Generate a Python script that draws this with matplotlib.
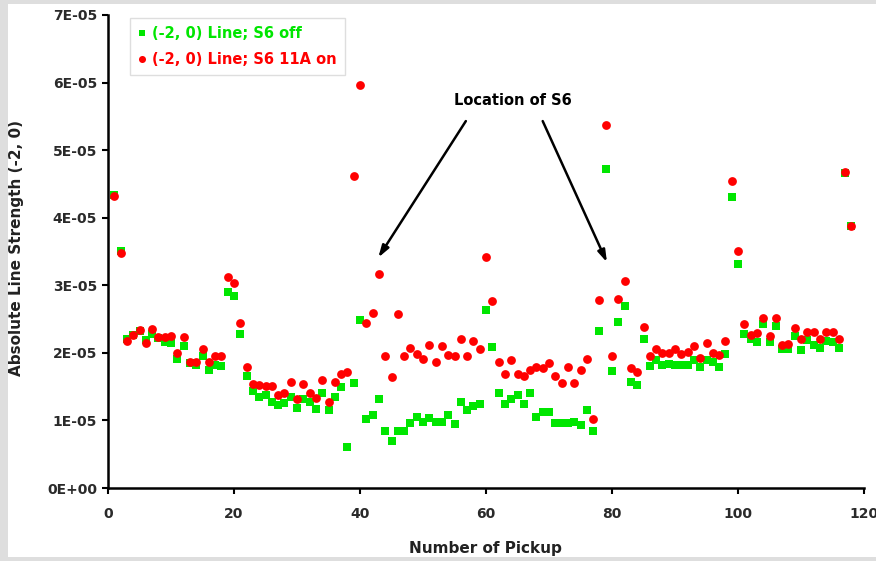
import numpy as np
import matplotlib
matplotlib.use("Agg")
import matplotlib.pyplot as plt
from matplotlib.patches import Rectangle
from matplotlib.ticker import FuncFormatter, MultipleLocator

# Pickup numbers and line strengths (in units of 1E-05)
pickup = list(range(1, 119))

s6_off = [
    4.34, 3.50, 2.21, 2.26, 2.32, 2.19, 2.28, 2.22, 2.16, 2.14,
    1.91, 2.10, 1.85, 1.82, 1.96, 1.74, 1.82, 1.81, 2.90, 2.84,
    2.28, 1.66, 1.43, 1.34, 1.38, 1.28, 1.23, 1.26, 1.35, 1.18,
    1.31, 1.28, 1.17, 1.41, 1.16, 1.35, 1.49, 0.60, 1.55, 2.48,
    1.02, 1.08, 1.31, 0.85, 0.70, 0.85, 0.85, 0.96, 1.05, 0.98,
    1.03, 0.98, 0.98, 1.08, 0.95, 1.28, 1.15, 1.21, 1.25, 2.64,
    2.08, 1.41, 1.24, 1.32, 1.38, 1.24, 1.41, 1.05, 1.12, 1.12,
    0.96, 0.96, 0.96, 0.97, 0.93, 1.15, 0.85, 2.32, 4.72, 1.73,
    2.46, 2.70, 1.57, 1.53, 2.21, 1.80, 1.90, 1.82, 1.83, 1.82,
    1.82, 1.82, 1.90, 1.79, 1.90, 1.86, 1.79, 1.98, 4.31, 3.31,
    2.28, 2.20, 2.16, 2.42, 2.16, 2.40, 2.06, 2.06, 2.25, 2.04,
    2.19, 2.12, 2.07, 2.17, 2.16, 2.07, 4.66, 3.87,
]

s6_on = [
    4.32, 3.48, 2.18, 2.27, 2.34, 2.14, 2.36, 2.24, 2.24, 2.25,
    2.00, 2.24, 1.87, 1.87, 2.06, 1.87, 1.96, 1.96, 3.12, 3.04,
    2.44, 1.79, 1.54, 1.52, 1.51, 1.51, 1.38, 1.40, 1.57, 1.31,
    1.54, 1.40, 1.33, 1.60, 1.28, 1.57, 1.68, 1.71, 4.61, 5.97,
    2.44, 2.59, 3.16, 1.96, 1.64, 2.57, 1.95, 2.07, 1.99, 1.91,
    2.12, 1.86, 2.10, 1.97, 1.95, 2.20, 1.96, 2.17, 2.05, 3.42,
    2.77, 1.86, 1.69, 1.89, 1.69, 1.66, 1.75, 1.79, 1.78, 1.85,
    1.66, 1.56, 1.79, 1.56, 1.74, 1.91, 1.02, 2.78, 5.37, 1.96,
    2.80, 3.07, 1.78, 1.72, 2.38, 1.96, 2.05, 2.00, 2.00, 2.05,
    1.98, 2.01, 2.10, 1.93, 2.14, 2.00, 1.97, 2.18, 4.55, 3.51,
    2.43, 2.26, 2.29, 2.51, 2.25, 2.52, 2.11, 2.13, 2.37, 2.20,
    2.31, 2.31, 2.20, 2.31, 2.31, 2.20, 4.68, 3.88,
]

scale = 1e-5
off_vals = np.array(s6_off) * scale
on_vals = np.array(s6_on) * scale

GREEN = "#00e600"
RED = "#ff0000"
TICK_COLOR = "#2a2a2a"

plt.rcParams["font.family"] = ["DejaVu Sans"]
plt.rcParams["font.weight"] = "bold"

fig = plt.figure(figsize=(8.76, 5.61), dpi=100)
fig.patch.set_facecolor("#dedede")
# white page area inside the grey frame
fig.patches.append(Rectangle((8 / 876, 4 / 561), 1.0, 1 - 8 / 561,
                             transform=fig.transFigure, facecolor="white",
                             edgecolor="none", zorder=-10))

ax = fig.add_axes([108 / 876, 1 - 488 / 561, 756 / 876, (488 - 15) / 561])
ax.set_zorder(1)
ax.set_facecolor("white")

ax.scatter(pickup, off_vals, marker="s", s=34, color=GREEN, linewidths=0,
           label="(-2, 0) Line; S6 off", zorder=3, clip_on=False)
ax.scatter(pickup, on_vals, marker="o", s=40, color=RED, linewidths=0,
           label="(-2, 0) Line; S6 11A on", zorder=4, clip_on=False)

ax.set_xlim(0, 120)
ax.set_ylim(0, 7e-5)
ax.xaxis.set_major_locator(MultipleLocator(20))
ax.yaxis.set_major_locator(MultipleLocator(1e-5))
ax.yaxis.set_major_formatter(FuncFormatter(lambda v, _: f"{v:.0E}"))

for side in ("top", "right"):
    ax.spines[side].set_visible(False)
for side in ("left", "bottom"):
    ax.spines[side].set_linewidth(1.8)
    ax.spines[side].set_color("black")

ax.tick_params(axis="both", direction="out", length=4, width=1.5,
               colors="black", labelcolor=TICK_COLOR, labelsize=10)
ax.tick_params(axis="x", pad=9.5)
ax.tick_params(axis="y", pad=4)
for lbl in ax.get_xticklabels() + ax.get_yticklabels():
    lbl.set_fontweight("bold")

fig.text(485 / 876, 1 - 549 / 561, "Number of Pickup", ha="center",
         va="center", fontsize=11, fontweight="bold", color="#222222")
fig.text(17 / 876, 1 - 248 / 561, "Absolute Line Strength (-2, 0)",
         ha="center", va="center", rotation=90, fontsize=11,
         fontweight="bold", color="#222222")

leg = ax.legend(loc="upper left", bbox_to_anchor=(130 / 876, 1 - 18 / 561),
                bbox_transform=fig.transFigure, borderaxespad=0,
                fontsize=10.5, frameon=True, fancybox=False,
                handlelength=0.6, handletextpad=0.35, borderpad=0.55,
                labelspacing=0.75, markerscale=0.8, scatteryoffsets=[0.5])
leg.get_frame().set_edgecolor("#d6d6d6")
leg.get_frame().set_linewidth(1.0)
for txt, col in zip(leg.get_texts(), (GREEN, RED)):
    txt.set_color(col)
    txt.set_fontweight("bold")

# annotation pointing at the S6 location
ax.text(64.3, 5.73e-5, "Location of S6", ha="center", va="center",
        fontsize=10.5, fontweight="bold", color="black")
arrow_style = dict(arrowstyle="-|>,head_length=0.7,head_width=0.22",
                   color="black", lw=1.8, shrinkA=0, shrinkB=0)
ax.annotate("", xy=(42.9, 3.41e-5), xytext=(56.8, 5.43e-5),
            arrowprops=arrow_style)
ax.annotate("", xy=(79.2, 3.34e-5), xytext=(69.0, 5.43e-5),
            arrowprops=arrow_style)

fig.savefig("out.png", dpi=100, facecolor=fig.get_facecolor())
